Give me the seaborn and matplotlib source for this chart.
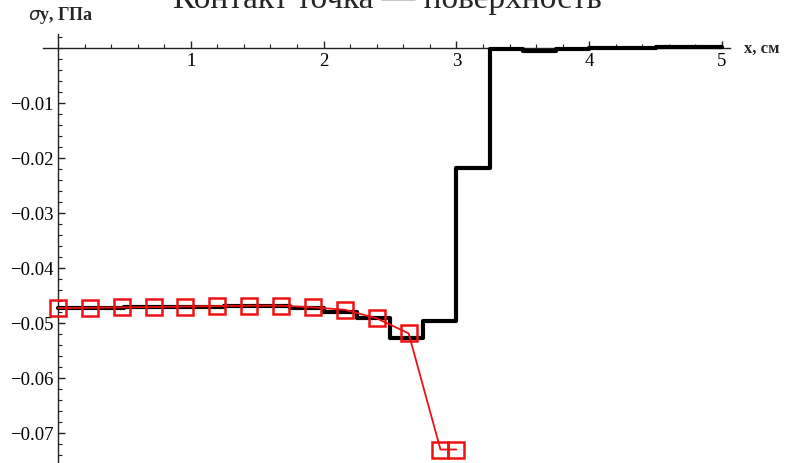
import numpy as np
import pandas as pd
import matplotlib
matplotlib.use("Agg")
import matplotlib.pyplot as plt
import matplotlib.ticker as mticker
import seaborn as sns

# Step profile of sigma_y along the surface (bin edges 0..5 cm, width 0.25)
step_edges = [0.0, 0.25, 0.5, 0.75, 1.0, 1.25, 1.5, 1.75, 2.0, 2.25, 2.5,
              2.75, 3.0, 3.25, 3.5, 3.75, 4.0, 4.25, 4.5, 4.75, 5.0]
step_sigma = [-0.0474, -0.0473, -0.0472, -0.0472, -0.0471, -0.0470, -0.0470,
              -0.0474, -0.0480, -0.0492, -0.0527, -0.0496, -0.0219, -0.0002,
              -0.0005, -0.0002, -0.0001, 0.0000, 0.0001, 0.0001]

# Point solution (red squares)
pt_x = [0.0, 0.24, 0.48, 0.72, 0.96, 1.20, 1.44, 1.68, 1.92, 2.16, 2.40,
        2.64, 2.88, 3.00]
pt_sigma = [-0.04733, -0.04727, -0.04720, -0.04715, -0.04705, -0.04696,
            -0.04690, -0.04690, -0.04720, -0.04764, -0.04920, -0.05193,
            -0.07305, -0.07305]

x_ticks = [1, 2, 3, 4, 5]
y_ticks = [-0.07, -0.06, -0.05, -0.04, -0.03, -0.02, -0.01]

sns.set_theme(style="white")
plt.rcParams["font.family"] = ["Liberation Serif", "DejaVu Serif"]
plt.rcParams["axes.unicode_minus"] = True

W, H = 787, 464
fig = plt.figure(figsize=(W / 100, H / 100), dpi=100)
left_px, right_px, top_px = 43, 730, 35
ax = fig.add_axes([left_px / W, 0.0, (right_px - left_px) / W, (H - top_px) / H])

step_df = pd.DataFrame({"x": step_edges, "sigma": step_sigma + [step_sigma[-1]]})
pt_df = pd.DataFrame({"x": pt_x, "sigma": pt_sigma})

sns.lineplot(data=step_df, x="x", y="sigma", ax=ax, color="black",
             linewidth=3.0, drawstyle="steps-post", estimator=None,
             sort=False, clip_on=False, zorder=3)
sns.lineplot(data=pt_df, x="x", y="sigma", ax=ax, color="#ee1111",
             linewidth=1.3, marker="s", markersize=12,
             markerfacecolor="none", markeredgecolor="#ee1111",
             markeredgewidth=1.8, estimator=None, sort=False, zorder=4)

ax.set_xlim(-0.113, 5.06)
ax.set_ylim(-0.0755, 0.0025)

# Axes crossing at the origin
ax.spines["left"].set_position(("data", 0))
ax.spines["bottom"].set_position(("data", 0))
ax.spines["top"].set_visible(False)
ax.spines["right"].set_visible(False)
for s in ("left", "bottom"):
    ax.spines[s].set_color("#222222")
    ax.spines[s].set_linewidth(1.0)

ax.xaxis.set_major_locator(mticker.FixedLocator(x_ticks))
ax.xaxis.set_minor_locator(mticker.MultipleLocator(0.2))
ax.yaxis.set_major_locator(mticker.FixedLocator(y_ticks))
ax.yaxis.set_minor_locator(mticker.MultipleLocator(0.002))
ax.xaxis.set_major_formatter(mticker.FuncFormatter(lambda v, p: f"{v:g}"))
ax.yaxis.set_major_formatter(
    mticker.FuncFormatter(lambda v, p: f"{v:.2f}".replace("-", "\u2212")))

ax.tick_params(axis="both", which="major", direction="in", length=5,
               width=1.0, color="#222222", labelsize=13.5, labelcolor="black",
               pad=3)
ax.tick_params(axis="both", which="minor", direction="in", length=3,
               width=0.8, color="#222222")
ax.tick_params(axis="x", which="both", bottom=True, top=False)
ax.tick_params(axis="y", which="both", left=True, right=False)
ax.set_xlabel("")
ax.set_ylabel("")
ax.grid(False)

# Axis captions
fig.text(28 / W, 1 - 20 / H, r"$\sigma$y, ГПа", fontsize=13, fontweight="bold",
         ha="left", va="baseline")
fig.text(744 / W, 1 - 53 / H, "x, см", fontsize=12, fontweight="bold",
         ha="left", va="baseline")

# Title, partly running off the top edge
fig.text(0.5 * (172 + 602) / W, 1 - 8 / H, "Контакт точка — поверхность",
         fontsize=24, ha="center", va="baseline")

fig.savefig("out.png", dpi=100)
